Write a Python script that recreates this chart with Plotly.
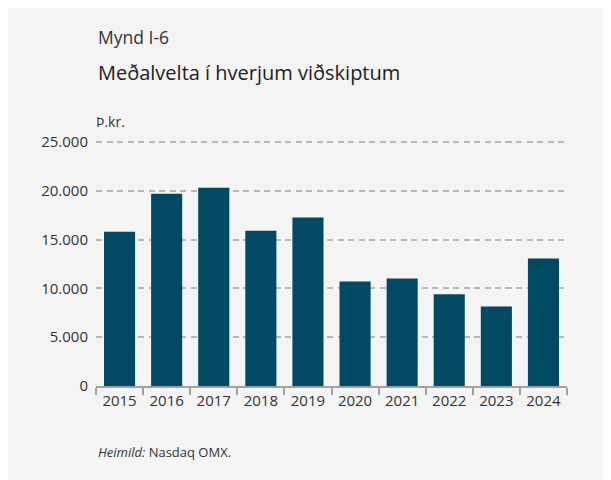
import plotly.graph_objects as go

years = ["2015", "2016", "2017", "2018", "2019", "2020", "2021", "2022", "2023", "2024"]
values = [15800, 19700, 20300, 15900, 17250, 10700, 11000, 9400, 8150, 13050]
ytick_vals = [0, 5000, 10000, 15000, 20000, 25000]
ytick_text = ["0", "5.000", "10.000", "15.000", "20.000", "25.000"]
y_max = 25500

# the page puts the figure 8px from the top-left corner
OFF = 8
W, H = 611 - OFF, 480 - OFF
ppu = 244.5 / 25000  # pixels per unit
L, R, B = 96 - OFF, 44, 94
T = round(H - B - y_max * ppu)
pw, ph = W - L - R, H - T - B

def px(x):
    return (x - OFF - L) / pw

def py(y):
    return (H - B - (y - OFF)) / ph

font = "Open Sans, Noto Sans, sans-serif"

fig = go.Figure(go.Bar(x=years, y=values, marker_color="#004a64", marker_line_width=0,
                       width=0.66))

fig.update_layout(
    width=W, height=H,
    margin=dict(l=L, r=R, t=T, b=B),
    paper_bgcolor="white",
    plot_bgcolor="rgba(0,0,0,0)",
    showlegend=False,
    font=dict(family=font, color="#333333", size=15),
    xaxis=dict(showgrid=False, showline=True, linecolor="#a0a0a0", linewidth=1.5,
               ticks="outside", tickson="boundaries", ticklen=7, tickcolor="#a0a0a0",
               tickwidth=1.5, tickfont=dict(size=15, color="#333333"), range=[-0.5, 9.5]),
    yaxis=dict(range=[0, y_max], tickvals=ytick_vals, ticktext=ytick_text,
               showgrid=True, gridcolor="#b8b8b8", griddash="6px,4.5px", gridwidth=1.5,
               zeroline=False, showline=False, ticks="", ticklabelstandoff=7,
               tickfont=dict(size=15, color="#333333")),
    shapes=[dict(type="rect", xref="paper", yref="paper", x0=px(OFF), x1=px(607),
                 y0=py(480), y1=py(OFF), fillcolor="#f4f4f4", line_width=0, layer="below")],
    annotations=[
        dict(text="Mynd I-6", xref="paper", yref="paper", x=px(96), y=py(37),
             xanchor="left", yanchor="middle", showarrow=False,
             font=dict(size=17.5, color="#333333")),
        dict(text="Meðalvelta í hverjum viðskiptum", xref="paper", yref="paper",
             x=px(96), y=py(72), xanchor="left", yanchor="middle", showarrow=False,
             font=dict(size=20, color="#222222")),
        dict(text="Þ.kr.", xref="paper", yref="paper", x=px(94), y=py(121),
             xanchor="left", yanchor="middle", showarrow=False,
             font=dict(size=14, color="#333333")),
        dict(text="<i>Heimild:</i> Nasdaq OMX.", xref="paper", yref="paper",
             x=px(96), y=py(452), xanchor="left", yanchor="middle", showarrow=False,
             font=dict(size=13, color="#333333")),
    ],
)

fig.write_html("out.html")
